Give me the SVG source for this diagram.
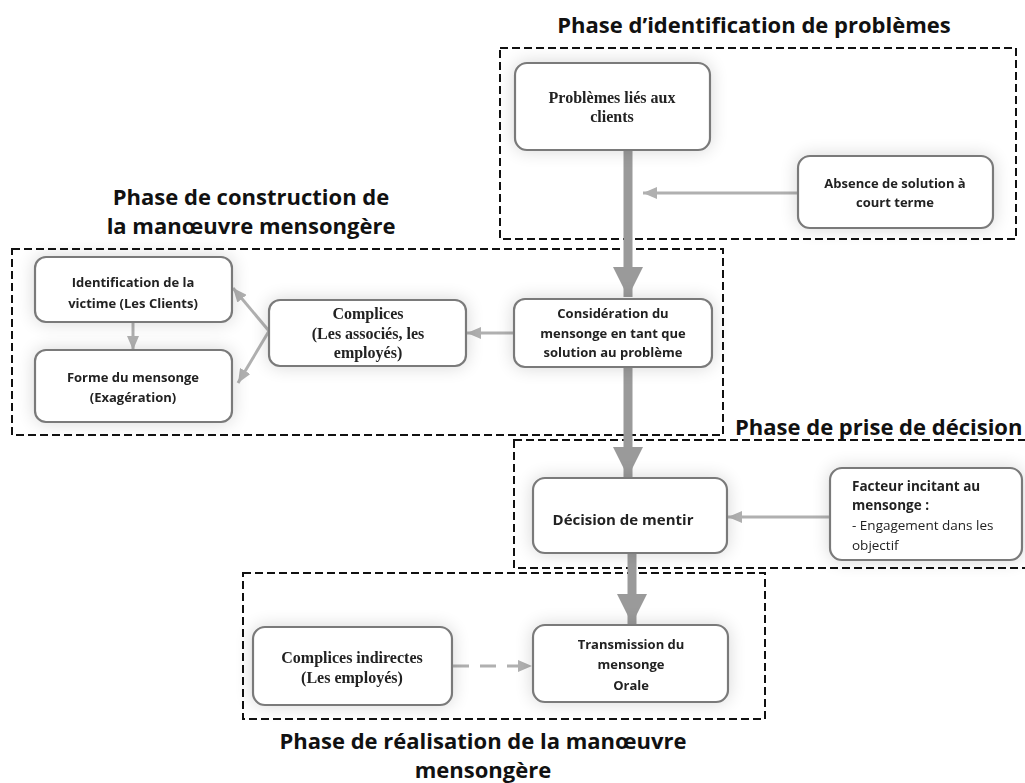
<svg xmlns="http://www.w3.org/2000/svg" width="1025" height="783" viewBox="0 0 1025 783">
<defs>
<style>
.bg{fill:#ffffff}
.phase{fill:none;stroke:#111;stroke-width:2;stroke-dasharray:8,4}
.title{font-family:"Open Sans","Liberation Sans",sans-serif;font-weight:bold;font-size:22px;fill:#111}
.node{fill:#ffffff;stroke:#7a7a7a;stroke-width:2.2}
.sans{font-family:"Open Sans","Liberation Sans",sans-serif;font-weight:bold;font-size:13px;fill:#222}
.sansr{font-family:"Open Sans","Liberation Sans",sans-serif;font-size:13.5px;fill:#222}
.serif{font-family:"Liberation Serif","Times New Roman",serif;font-weight:bold;font-size:16px;fill:#222}
.thick{stroke:#9a9a9a;stroke-width:9;fill:none}
.thin{stroke:#b0b0b0;stroke-width:3;fill:none}
.dash{stroke:#b0b0b0;stroke-width:3;fill:none;stroke-dasharray:16,11}
</style>
<marker id="headBig" markerUnits="userSpaceOnUse" markerWidth="30" markerHeight="30" refX="30" refY="15" orient="auto">
<path d="M0,0 L30,15 L0,30 z" fill="#9a9a9a"/>
</marker>
<marker id="headSmall" markerUnits="userSpaceOnUse" markerWidth="14" markerHeight="12" refX="14" refY="6" orient="auto">
<path d="M0,0 L14,6 L0,12 z" fill="#b0b0b0"/>
</marker>
<filter id="halo" x="-20%" y="-30%" width="140%" height="160%">
<feGaussianBlur in="SourceAlpha" stdDeviation="9"/>
<feComponentTransfer><feFuncA type="linear" slope="0.16"/></feComponentTransfer>
<feMerge><feMergeNode/><feMergeNode in="SourceGraphic"/></feMerge>
</filter>
</defs>
<rect class="bg" x="0" y="0" width="1025" height="783"/>

<g id="phases">
<g id="phase-identification">
<rect class="phase" x="500" y="48" width="516" height="191"/>
<text class="title" x="754" y="33" text-anchor="middle">Phase d’identification de problèmes</text>
</g>
<g id="phase-construction">
<rect class="phase" x="12" y="249" width="711" height="186"/>
<text class="title" x="251" y="205" text-anchor="middle">Phase de construction de</text>
<text class="title" x="251" y="234" text-anchor="middle">la manœuvre mensongère</text>
</g>
<g id="phase-decision">
<rect class="phase" x="514" y="440" width="530" height="128"/>
<text class="title" x="735" y="435">Phase de prise de décision</text>
</g>
<g id="phase-realisation">
<rect class="phase" x="243" y="573" width="522" height="146"/>
<text class="title" x="483" y="749" text-anchor="middle">Phase de réalisation de la manœuvre</text>
<text class="title" x="483" y="778" text-anchor="middle">mensongère</text>
</g>
</g>

<g id="connectors">
<line class="thick" x1="628" y1="150" x2="628" y2="297" marker-end="url(#headBig)"/>
<line class="thick" x1="628" y1="367" x2="628" y2="477" marker-end="url(#headBig)"/>
<line class="thick" x1="632" y1="553" x2="632" y2="624" marker-end="url(#headBig)"/>
<line class="thin" x1="798" y1="193" x2="643" y2="193" marker-end="url(#headSmall)"/>
<line class="thin" x1="514" y1="333" x2="467" y2="333" marker-end="url(#headSmall)"/>
<line class="thin" x1="269" y1="331" x2="233" y2="288" marker-end="url(#headSmall)"/>
<line class="thin" x1="269" y1="331" x2="238" y2="383" marker-end="url(#headSmall)"/>
<line class="thin" x1="133" y1="322" x2="133" y2="350" marker-end="url(#headSmall)"/>
<line class="thin" x1="830" y1="517" x2="728" y2="517" marker-end="url(#headSmall)"/>
<line class="dash" x1="453" y1="666" x2="532" y2="666" marker-end="url(#headSmall)"/>
</g>

<g id="node-problemes" filter="url(#halo)">
<rect class="node" x="515" y="63" width="195" height="87" rx="12"/>
<text class="serif" x="612" y="103" text-anchor="middle">Problèmes liés aux</text>
<text class="serif" x="612" y="122" text-anchor="middle">clients</text>
</g>
<g id="node-absence" filter="url(#halo)">
<rect class="node" x="798" y="156" width="195" height="72" rx="12"/>
<text class="sans" x="895" y="188" text-anchor="middle">Absence de solution à</text>
<text class="sans" x="895" y="207" text-anchor="middle">court terme</text>
</g>
<g id="node-consideration" filter="url(#halo)">
<rect class="node" x="514" y="299" width="198" height="68" rx="11"/>
<text class="sans" x="613" y="318" text-anchor="middle">Considération du</text>
<text class="sans" x="613" y="338" text-anchor="middle">mensonge en tant que</text>
<text class="sans" x="613" y="357" text-anchor="middle">solution au problème</text>
</g>
<g id="node-complices" filter="url(#halo)">
<rect class="node" x="269" y="300" width="197" height="66" rx="11"/>
<text class="serif" x="368" y="319" text-anchor="middle">Complices</text>
<text class="serif" x="368" y="339" text-anchor="middle">(Les associés, les</text>
<text class="serif" x="368" y="358" text-anchor="middle">employés)</text>
</g>
<g id="node-identification" filter="url(#halo)">
<rect class="node" x="35" y="257" width="197" height="65" rx="11"/>
<text class="sans" x="133" y="287" text-anchor="middle">Identification de la</text>
<text class="sans" x="133" y="308" text-anchor="middle">victime (Les Clients)</text>
</g>
<g id="node-forme" filter="url(#halo)">
<rect class="node" x="35" y="350" width="197" height="72" rx="11"/>
<text class="sans" x="133" y="382" text-anchor="middle">Forme du mensonge</text>
<text class="sans" x="133" y="402" text-anchor="middle">(Exagération)</text>
</g>
<g id="node-decision" filter="url(#halo)">
<rect class="node" x="533" y="478" width="194" height="75" rx="12"/>
<text class="sans" x="623" y="525" text-anchor="middle" style="font-size:15px">Décision de mentir</text>
</g>
<g id="node-facteur" filter="url(#halo)">
<rect class="node" x="830" y="468" width="192" height="92" rx="12"/>
<text class="sans" x="852" y="491" style="font-size:13.5px">Facteur incitant au</text>
<text class="sans" x="852" y="510" style="font-size:13.5px">mensonge :</text>
<text class="sansr" x="852" y="530">- Engagement dans les</text>
<text class="sansr" x="852" y="550">objectif</text>
</g>
<g id="node-complices-indirectes" filter="url(#halo)">
<rect class="node" x="253" y="627" width="199" height="78" rx="12"/>
<text class="serif" x="352" y="663" text-anchor="middle">Complices indirectes</text>
<text class="serif" x="352" y="683" text-anchor="middle">(Les employés)</text>
</g>
<g id="node-transmission" filter="url(#halo)">
<rect class="node" x="533" y="625" width="195" height="77" rx="12"/>
<text class="sans" x="631" y="649" text-anchor="middle">Transmission du</text>
<text class="sans" x="631" y="669" text-anchor="middle">mensonge</text>
<text class="sans" x="631" y="690" text-anchor="middle">Orale</text>
</g>
</svg>
